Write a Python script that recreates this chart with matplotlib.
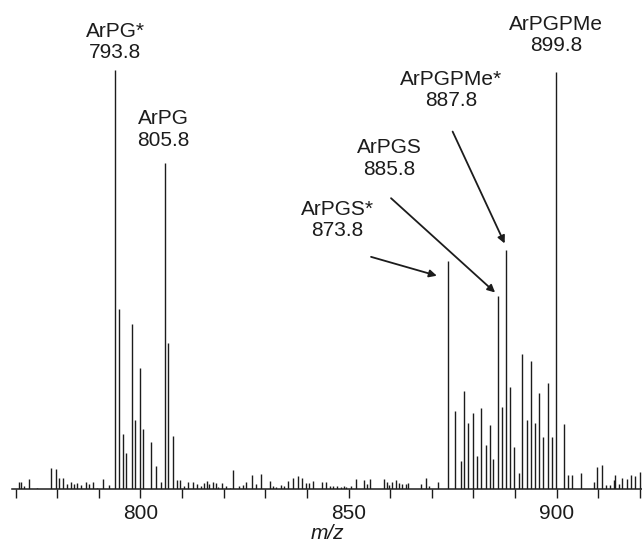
import matplotlib
matplotlib.use("Agg")
import matplotlib.pyplot as plt
import numpy as np

plt.rcParams['font.family'] = ['Liberation Sans', 'DejaVu Sans']

# peak positions (m/z) and relative intensities (%)
mz = [770.7, 771.2, 772.0, 773.1, 775.1, 778.5, 779.6, 780.4, 781.5, 782.4,
      783.2, 784.0, 784.7, 785.7, 786.9, 787.7, 788.5, 789.6, 790.9, 792.5,
      793.8, 794.8, 795.8, 796.6, 797.9, 798.8, 799.8, 800.7, 802.5, 803.7,
      804.9, 805.8, 806.7, 807.7, 808.7, 809.5, 810.5, 811.5, 812.5, 813.6,
      814.5, 815.3, 815.9, 816.5, 817.4, 818.1, 818.7, 819.7, 820.5, 821.5,
      822.2, 823.7, 824.6, 825.4, 826.9, 827.7, 829.0, 831.2, 831.8, 832.6,
      833.7, 834.5, 835.5, 836.6, 837.8, 838.7, 839.7, 840.6, 841.5, 843.5,
      844.5, 845.5, 846.3, 847.3, 848.1, 848.9, 849.4, 850.5, 851.8, 853.7,
      854.4, 855.1, 858.6, 859.3, 859.8, 860.4, 861.4, 862.2, 862.9, 863.8,
      864.3, 867.3, 868.6, 869.4, 871.4,
      873.8, 875.6, 877.0, 877.8, 878.8, 880.0, 880.8, 881.8, 882.9, 883.9,
      884.8, 885.8, 886.8, 887.8, 888.8, 889.7, 890.9, 891.7, 892.9, 893.8,
      894.8, 895.8, 896.8, 897.8, 898.8, 899.8, 901.7, 902.8, 903.7, 905.8,
      908.9, 909.7, 910.9, 911.8, 912.9, 913.7, 914.1, 914.9, 915.8, 916.9,
      917.8, 918.9, 920.0]
intensity = [1.7, 1.7, 0.7, 2.4, 0.3, 5.0, 4.7, 2.6, 2.6, 1.1,
             1.7, 1.1, 1.4, 0.9, 1.7, 1.1, 1.7, 0.3, 2.4, 0.9,
             100.0, 43.0, 13.1, 8.6, 39.4, 16.5, 28.8, 14.4, 11.3, 5.6,
             1.6, 77.8, 34.8, 12.6, 2.1, 2.1, 0.8, 1.7, 1.7, 1.3,
             0.6, 1.4, 1.8, 1.1, 1.7, 1.5, 0.4, 1.5, 0.6, 0.3,
             4.6, 0.8, 1.0, 1.7, 3.3, 1.3, 3.5, 1.8, 0.8, 0.4,
             1.0, 0.6, 2.0, 2.6, 3.1, 2.7, 1.4, 1.4, 2.0, 1.7,
             1.6, 0.6, 0.6, 0.8, 0.5, 0.8, 0.4, 0.6, 2.5, 2.2,
             1.1, 2.4, 2.4, 1.7, 1.0, 1.6, 2.1, 1.4, 1.1, 1.1,
             1.4, 1.3, 2.6, 0.6, 1.7,
             54.4, 18.7, 6.8, 23.4, 15.8, 18.1, 7.8, 19.3, 10.4, 15.3,
             7.2, 46.0, 19.5, 57.0, 24.3, 10.0, 3.7, 32.3, 16.4, 30.6,
             15.8, 22.9, 12.4, 25.2, 12.4, 99.5, 15.5, 3.4, 3.4, 3.8,
             1.6, 5.3, 5.7, 0.9, 0.9, 2.1, 3.4, 1.2, 2.6, 2.5,
             3.3, 3.2, 4.1]

# labelled peaks
peak_names = ['ArPG*', 'ArPG', 'ArPGS*', 'ArPGS', 'ArPGPMe*', 'ArPGPMe']
peak_mz = [793.8, 805.8, 873.8, 885.8, 887.8, 899.8]

ink = '#1c1c1c'

fig = plt.figure(figsize=(6.42, 5.48), dpi=100)
ax = fig.add_axes([12/642, 59/548, 630/642, 489/548])

ax.vlines(mz, 0, intensity, colors=ink, lw=1.0)

ax.set_xlim(769.13, 920.5)
ax.set_ylim(0, 116.7)

for s in ['top', 'left', 'right']:
    ax.spines[s].set_visible(False)
ax.spines['bottom'].set_linewidth(1.1)
ax.spines['bottom'].set_color(ink)
ax.set_yticks([])

ticks = np.arange(770, 921, 10)
ax.set_xticks(ticks)
ax.set_xticklabels([str(t) if t % 50 == 0 else '' for t in ticks])
ax.tick_params(axis='x', direction='out', length=6.5, width=1.0,
               color=ink, labelsize=15, labelcolor=ink, pad=4)
ax.set_xlabel('m/z', fontsize=15, style='italic', color=ink, labelpad=1)

# label text positions (centre) and arrow start/tip in data units
txt_pos = {
    'ArPG*': (793.9, 106.6),
    'ArPG': (805.6, 85.8),
    'ArPGS*': (847.3, 64.2),
    'ArPGS': (859.8, 78.9),
    'ArPGPMe*': (874.6, 95.3),
    'ArPGPMe': (899.8, 108.4),
}
arrows = {
    'ArPGS*': ((855.4, 55.4), (871.2, 50.9)),
    'ArPGS': ((860.2, 69.4), (885.2, 46.9)),
    'ArPGPMe*': ((875.0, 85.3), (887.5, 58.6)),
}

for name, m in zip(peak_names, peak_mz):
    x, y = txt_pos[name]
    ax.text(x, y, f'{name}\n{m:.1f}', ha='center', va='center',
            multialignment='center', fontsize=15, color=ink,
            linespacing=1.15, clip_on=False)
    if name in arrows:
        (x0, y0), (x1, y1) = arrows[name]
        ax.annotate('', xy=(x1, y1), xytext=(x0, y0),
                    arrowprops=dict(arrowstyle='-|>', color=ink, lw=1.3,
                                    mutation_scale=11, shrinkA=0, shrinkB=0))

fig.savefig('out.png', dpi=100)
